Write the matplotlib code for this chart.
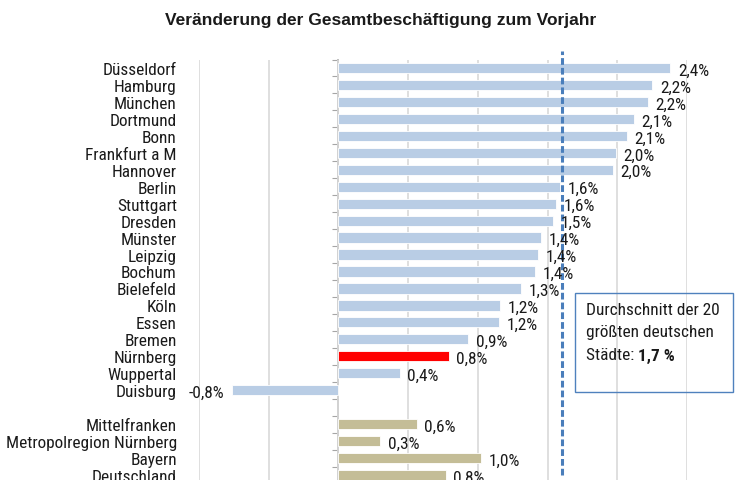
import matplotlib
matplotlib.use("Agg")
import matplotlib.pyplot as plt
import numpy as np

NARROW = ["Roboto Condensed", "DejaVu Sans"]
TITLE_FONT = ["Liberation Sans", "DejaVu Sans"]
plt.rcParams["font.family"] = NARROW

cities = ["Düsseldorf", "Hamburg", "München", "Dortmund", "Bonn", "Frankfurt a M",
          "Hannover", "Berlin", "Stuttgart", "Dresden", "Münster", "Leipzig", "Bochum",
          "Bielefeld", "Köln", "Essen", "Bremen", "Nürnberg", "Wuppertal", "Duisburg"]
city_values = [2.38, 2.25, 2.22, 2.12, 2.07, 1.99, 1.97, 1.59, 1.56, 1.54, 1.45, 1.43,
               1.41, 1.31, 1.16, 1.15, 0.93, 0.79, 0.44, -0.76]
city_labels = ["2,4%", "2,2%", "2,2%", "2,1%", "2,1%", "2,0%", "2,0%", "1,6%", "1,6%",
               "1,5%", "1,4%", "1,4%", "1,4%", "1,3%", "1,2%", "1,2%", "0,9%", "0,8%",
               "0,4%", "-0,8%"]
regions = ["Mittelfranken", "Metropolregion Nürnberg", "Bayern", "Deutschland"]
region_values = [0.56, 0.30, 1.02, 0.77]
region_labels = ["0,6%", "0,3%", "1,0%", "0,8%"]
highlight = "Nürnberg"
avg_line = 1.60
x_ticks = [-1.0, -0.5, 0.0, 0.5, 1.0, 1.5, 2.0, 2.5]
title = "Veränderung der Gesamtbeschäftigung zum Vorjahr"
box_lines = ["Durchschnitt der 20", "größten deutschen", "Städte: "]
box_value = "1,7 %"

BLUE = "#b9cde5"
RED = "#ff0000"
TAN = "#c4bd97"
TXT = "#1a1a1a"
FS = 12.4

fig = plt.figure(figsize=(7.52, 4.81), dpi=100)
W, H = 752, 481
x0, x1 = 199, 687
ytop, ybot = 60.5, 484.5
ax = fig.add_axes([x0 / W, 1 - ybot / H, (x1 - x0) / W, (ybot - ytop) / H])

n = len(cities) + 1 + len(regions)
ypos_c = np.arange(len(cities))
ypos_r = np.arange(len(regions)) + len(cities) + 1

ccolors = [RED if c == highlight else BLUE for c in cities]
ax.barh(ypos_c, city_values, height=0.6, color=ccolors, edgecolor="white", linewidth=0.6, zorder=3)
ax.barh(ypos_r, region_values, height=0.6, color=TAN, edgecolor="white", linewidth=0.6, zorder=3)

ax.set_ylim(n - 0.5, -0.5)
ax.set_xlim(x_ticks[0], x_ticks[-1])
ax.set_xticks(x_ticks)
ax.tick_params(axis="x", length=0, labelbottom=False)
ax.grid(axis="x", color="#d9d9d9", linewidth=1.2, zorder=0)
for s in ax.spines.values():
    s.set_visible(False)

ax.set_yticks(list(ypos_c) + list(ypos_r))
ax.set_yticklabels(cities + regions, fontsize=FS, color=TXT)
ax.tick_params(axis="y", length=0, pad=16)

# zero axis with tick marks between categories
frac0 = (0 - x_ticks[0]) / (x_ticks[-1] - x_ticks[0])
sec = ax.secondary_yaxis(frac0)
sec.set_yticks(np.arange(n + 1) - 0.5)
sec.tick_params(axis="y", length=4, color="#a6a6a6", labelleft=False, direction="out")
sec.spines["left"].set_color("#a6a6a6")
sec.spines["left"].set_linewidth(1.2)

def label_bars(ys, vals, labs):
    for y, v, t in zip(ys, vals, labs):
        if v >= 0:
            ax.annotate(t, (v, y), xytext=(5.5, -1.5), textcoords="offset points",
                        ha="left", va="center", fontsize=FS, color=TXT, zorder=5)
        else:
            ax.annotate(t, (v, y), xytext=(-6, -1.5), textcoords="offset points",
                        ha="right", va="center", fontsize=FS, color=TXT, zorder=5)

label_bars(ypos_c, city_values, city_labels)
label_bars(ypos_r, region_values, region_labels)

ax.axvline(avg_line, ymin=0.02, ymax=1.02, color="#4a7ebb", linewidth=2.2,
           linestyle=(0, (2.2, 1.0)), zorder=4, clip_on=False)

# annotation box
bx0, by0, bx1, by1 = 575 / W, 1 - 393 / H, 733 / W, 1 - 294 / H
rect = plt.Rectangle((bx0, by0), bx1 - bx0, by1 - by0, transform=fig.transFigure,
                     fill=False, edgecolor="#4f81bd", linewidth=1.0)
fig.patches.append(rect)
tx = 586 / W
line_y = [311, 333, 356]
t3 = None
for s, yy in zip(box_lines, line_y):
    t3 = fig.text(tx, 1 - yy / H, s, fontsize=FS, va="center", color=TXT)
ax.annotate(box_value, xy=(1, 0), xycoords=t3, va="bottom", ha="left",
            fontsize=FS, fontweight="bold", color=TXT)

fig.text(381 / W, 1 - 21 / H, title, fontsize=12.5, fontweight="bold",
         ha="center", va="center", color=TXT, family=TITLE_FONT)

fig.savefig("out.png", dpi=100)
